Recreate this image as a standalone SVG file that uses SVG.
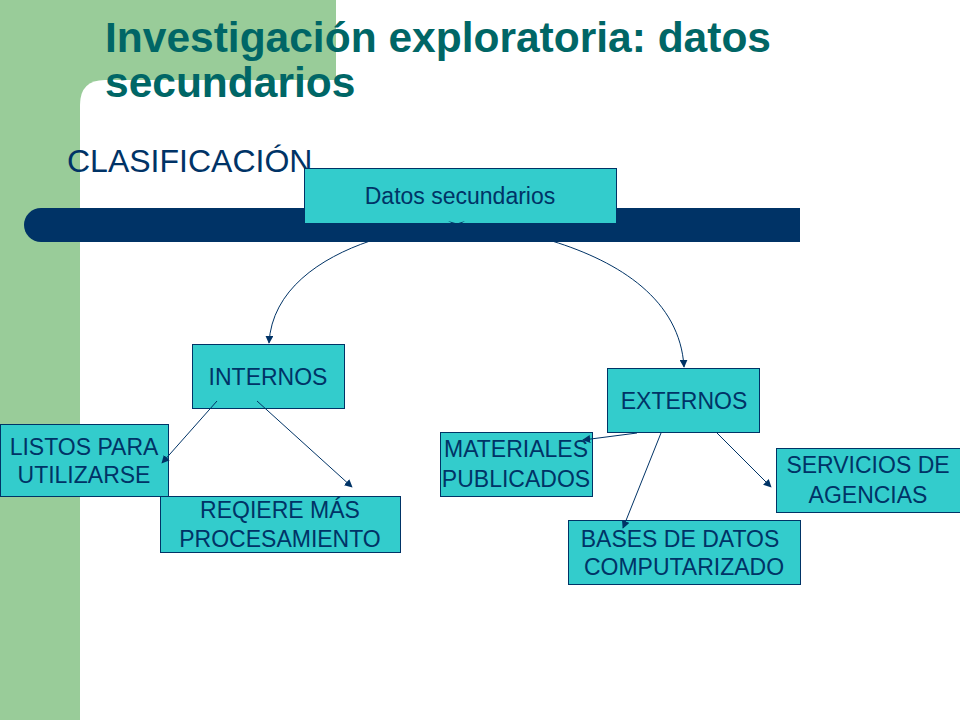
<svg xmlns="http://www.w3.org/2000/svg" width="960" height="720" viewBox="0 0 960 720">
<defs>
<style>
.box{fill:#33CCCC;stroke:#003366;stroke-width:1}
.t{font-family:"Liberation Sans",Arial,sans-serif;font-size:23px;fill:#003366;text-anchor:middle}
.c{fill:none;stroke:#003366;stroke-width:1}
</style>
<marker id="ah" viewBox="0 0 10 10" refX="9" refY="5" markerWidth="8" markerHeight="8" markerUnits="userSpaceOnUse" orient="auto">
<path d="M0,0 L10,5 L0,10 z" fill="#003366"/>
</marker>
</defs>
<rect x="0" y="0" width="960" height="720" fill="#ffffff"/>
<g id="background">
<rect x="0" y="0" width="336" height="105" fill="#99CC99"/>
<rect x="0" y="0" width="80" height="720" fill="#99CC99"/>
<path d="M105,80 L336,80 L336,720 L80,720 L80,105 Q80,80 105,80 Z" fill="#ffffff"/>
<path d="M41,208 L800,208 L800,242 L41,242 A17,17 0 0 1 41,208 Z" fill="#003366"/>
</g>
<g id="title">
<text x="105" y="52" font-family="Liberation Sans,Arial,sans-serif" font-weight="bold" font-size="42.5" fill="#006666">Investigación exploratoria: datos</text>
<text x="105" y="97" font-family="Liberation Sans,Arial,sans-serif" font-weight="bold" font-size="42.5" fill="#006666">secundarios</text>
</g>
<g id="subtitle">
<text x="67" y="172" font-family="Liberation Sans,Arial,sans-serif" font-size="32" fill="#003366">CLASIFICACIÓN</text>
</g>
<g id="n-datos">
<rect class="box" x="304.5" y="168.5" width="312" height="55"/>
<text class="t" x="460" y="204">Datos secundarios</text>
<path d="M448,221 L457,226 L465,221 L457,223.5 Z" fill="#003366"/>
</g>
<g id="n-internos">
<rect class="box" x="192.5" y="344.5" width="152" height="64"/>
<text class="t" x="268" y="385">INTERNOS</text>
</g>
<g id="n-listos">
<rect class="box" x="0.5" y="424.5" width="168" height="72"/>
<text class="t" x="84" y="455">LISTOS PARA</text>
<text class="t" x="84" y="483">UTILIZARSE</text>
</g>
<g id="n-reqiere">
<rect class="box" x="160.5" y="496.5" width="240" height="56"/>
<text class="t" x="280" y="518">REQIERE MÁS </text>
<text class="t" x="280" y="547">PROCESAMIENTO</text>
</g>
<g id="n-externos">
<rect class="box" x="607.5" y="368.5" width="152" height="64"/>
<text class="t" x="684" y="409">EXTERNOS</text>
</g>
<g id="n-materiales">
<rect class="box" x="440.5" y="432.5" width="152" height="64"/>
<text class="t" x="516" y="457">MATERIALES</text>
<text class="t" x="516" y="487">PUBLICADOS</text>
</g>
<g id="n-servicios">
<rect class="box" x="776.5" y="448.5" width="184" height="64"/>
<text class="t" x="868" y="473">SERVICIOS DE</text>
<text class="t" x="868" y="503">AGENCIAS</text>
</g>
<g id="n-bases">
<rect class="box" x="568.5" y="520.5" width="232" height="64"/>
<text class="t" x="680" y="547">BASES DE DATOS </text>
<text class="t" x="684" y="575">COMPUTARIZADO</text>
</g>
<g id="connectors">
<path class="c" d="M370,241 C320,258 272,290 269,343" marker-end="url(#ah)"/>
<path class="c" d="M552,241 C620,262 680,300 684,367" marker-end="url(#ah)"/>
<line class="c" x1="217" y1="401" x2="162" y2="463" marker-end="url(#ah)"/>
<line class="c" x1="257" y1="401" x2="352" y2="487" marker-end="url(#ah)"/>
<line class="c" x1="637" y1="433" x2="583" y2="440" marker-end="url(#ah)"/>
<line class="c" x1="661" y1="433" x2="623" y2="528" marker-end="url(#ah)"/>
<line class="c" x1="717" y1="433" x2="771" y2="487" marker-end="url(#ah)"/>
</g>
</svg>
